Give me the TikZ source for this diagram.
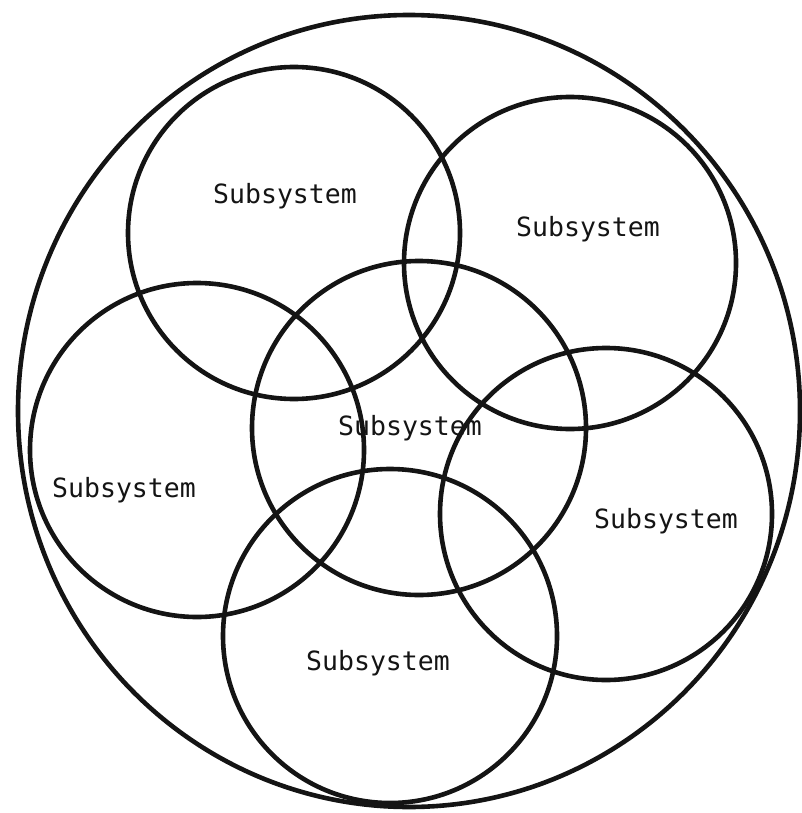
\documentclass[tikz,border=0pt]{standalone}
\usepackage{fontspec}
\newfontfamily\labelfont{DejaVu Sans Mono}
\begin{document}
\begin{tikzpicture}[x=1pt,y=-1pt,
  ring/.style={draw=black!92,line width=4.6pt},
  lbl/.style={font=\labelfont\fontsize{26.5}{30}\selectfont,text=black!92,inner sep=0pt}]
\useasboundingbox (0,0) rectangle (801,813);
\draw[ring] (409,411) ellipse [x radius=391,y radius=396];
\draw[ring] (294,233) circle [radius=166];
\draw[ring] (570,263) circle [radius=166];
\draw[ring] (197,450) circle [radius=167];
\draw[ring] (419,428) circle [radius=167];
\draw[ring] (606,514) circle [radius=166];
\draw[ring] (390,636) circle [radius=167];
\node[lbl] (tl) at (285,196) {Subsystem};
\node[lbl] (tr) at (588,229) {Subsystem};
\node[lbl] (c) at (410,428) {Subsystem};
\node[lbl] (l) at (124,490) {Subsystem};
\node[lbl] (r) at (666,521) {Subsystem};
\node[lbl] (b) at (378,663) {Subsystem};
\end{tikzpicture}
\end{document}
